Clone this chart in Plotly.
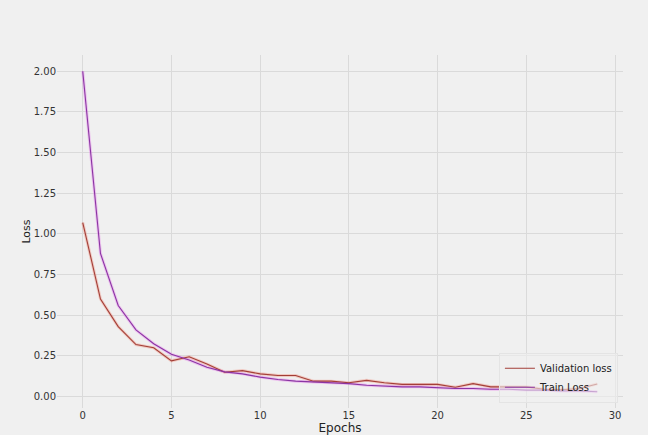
import plotly.graph_objects as go

# Per-epoch loss history
epochs = list(range(30))
val_loss = [1.07, 0.60, 0.43, 0.32, 0.30, 0.22, 0.245, 0.20, 0.15, 0.16,
            0.14, 0.13, 0.13, 0.095, 0.095, 0.085, 0.10, 0.085, 0.075, 0.075,
            0.075, 0.058, 0.08, 0.06, 0.06, 0.06, 0.045, 0.042, 0.05, 0.078]
train_loss = [2.00, 0.88, 0.56, 0.41, 0.325, 0.26, 0.225, 0.18, 0.152, 0.14,
              0.12, 0.105, 0.095, 0.09, 0.085, 0.08, 0.07, 0.065, 0.06, 0.06,
              0.055, 0.05, 0.05, 0.045, 0.045, 0.04, 0.04, 0.035, 0.035, 0.03]

x_ticks = [0, 5, 10, 15, 20, 25, 30]
y_ticks = [0.0, 0.25, 0.5, 0.75, 1.0, 1.25, 1.5, 1.75, 2.0]

BG = "#f0f0f0"
GRID = "#dadada"
FONT = "DejaVu Sans"

fig = go.Figure()

# soft halo under each line
fig.add_trace(go.Scatter(x=epochs, y=val_loss, mode="lines",
                         line=dict(color="rgba(240,130,110,0.35)", width=3),
                         showlegend=False, hoverinfo="skip"))
fig.add_trace(go.Scatter(x=epochs, y=train_loss, mode="lines",
                         line=dict(color="rgba(230,110,235,0.35)", width=3),
                         showlegend=False, hoverinfo="skip"))

fig.add_trace(go.Scatter(x=epochs, y=val_loss, mode="lines", name="Validation loss",
                         line=dict(color="#a33f38", width=1.1)))
fig.add_trace(go.Scatter(x=epochs, y=train_loss, mode="lines", name="Train Loss",
                         line=dict(color="#8a35a3", width=1.1)))

fig.update_layout(
    width=648, height=435,
    paper_bgcolor=BG, plot_bgcolor=BG,
    margin=dict(l=57, r=25, t=55, b=27, autoexpand=False),
    font=dict(family=FONT, size=10, color="#333333"),
    showlegend=True,
    legend=dict(x=0.991, y=0.015, xanchor="right", yanchor="bottom",
                bgcolor="rgba(240,240,240,0.6)", bordercolor="#e4e4e4", borderwidth=1,
                font=dict(family=FONT, size=10, color="#222222"),
                tracegroupgap=0, itemwidth=30),
    xaxis=dict(range=[-1.45, 30.45], tickvals=x_ticks, showgrid=True, automargin=False,
               gridcolor=GRID, gridwidth=1, zeroline=False, showline=False,
               ticks="", tickfont=dict(size=10, color="#333333"),
               title=dict(text="Epochs", font=dict(size=12, color="#222222"), standoff=0)),
    yaxis=dict(range=[-0.07, 2.1], tickvals=y_ticks, tickformat=".2f", showgrid=True,
               automargin=False,
               gridcolor=GRID, gridwidth=1, zeroline=False, showline=False,
               ticks="", tickfont=dict(size=10, color="#333333"),
               title=dict(text="Loss", font=dict(size=11, color="#222222"), standoff=0)),
)

fig.write_html("out.html")
